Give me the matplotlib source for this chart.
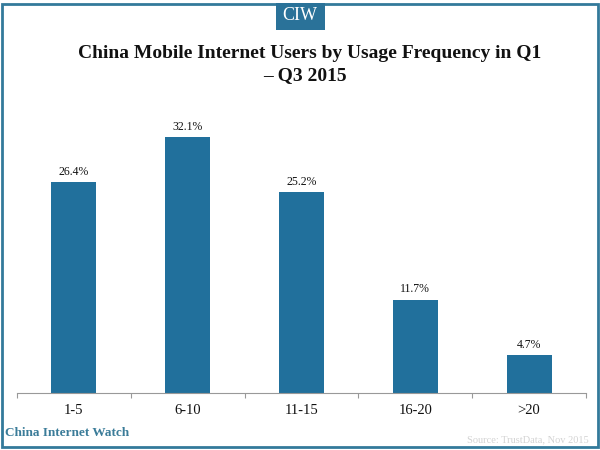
import matplotlib
matplotlib.use('Agg')
import matplotlib.pyplot as plt
from matplotlib.patches import Rectangle

categories = ['1-5', '6-10', '11-15', '16-20', '>20']
values = [26.4, 32.1, 25.2, 11.7, 4.7]

BLUE = '#21709c'
FRAME = '#337a9b'

plt.rcParams['font.family'] = ['Liberation Serif', 'DejaVu Serif']

fig = plt.figure(figsize=(6, 4.5), dpi=100)

# frame around the whole picture and the logo box on top
fig.add_artist(Rectangle((0.003, 0.0075), 0.994, 0.983, transform=fig.transFigure,
                         fill=False, edgecolor=FRAME, linewidth=2))
fig.add_artist(Rectangle((0.4600, 0.933), 0.0817, 0.06, transform=fig.transFigure,
                         facecolor='#2a7299', edgecolor='none'))
fig.text(0.4995, 0.9645, 'CIW', color='white', fontsize=13, ha='center', va='center')

fig.text(0.5167, 0.881, 'China Mobile Internet Users by Usage Frequency in Q1',
         fontsize=14, fontweight='bold', ha='center', va='center', color='#111111')
fig.text(0.5083, 0.833, '– Q3 2015',
         fontsize=14, fontweight='bold', ha='center', va='center', color='#111111')

# plot area
ax = fig.add_axes([17 / 600, 57 / 450, 569 / 600, 293 / 450])
bars = ax.bar(categories, values, width=0.395, color=BLUE)
ax.bar_label(bars, labels=['%.1f%%' % v for v in values], padding=3, fontsize=8.5,
             color='#111111')

ax.set_xlim(-0.5, 4.5)
ax.set_ylim(0, 36.7)
ax.set_yticks([])
for side in ['top', 'left', 'right']:
    ax.spines[side].set_visible(False)
ax.spines['bottom'].set_color('#999999')

# ticks sit between the categories
ax.set_xticks([-0.5, 0.5, 1.5, 2.5, 3.5, 4.5])
ax.set_xticklabels([])
ax.tick_params(axis='x', direction='out', length=3.5, color='#999999')
ax.set_xticks(range(len(categories)), labels=categories, minor=True)
ax.tick_params(axis='x', which='minor', length=0, pad=8, labelsize=10.5,
               labelcolor='#111111')

fig.text(0.008, 0.0378, 'China Internet Watch', fontsize=9.5, fontweight='bold',
         color='#3b7c99', ha='left', va='center')
fig.text(0.982, 0.022, 'Source: TrustData, Nov 2015', fontsize=7.5, color='#d3d3d3',
         ha='right', va='center')

fig.savefig('out.png', dpi=100)
